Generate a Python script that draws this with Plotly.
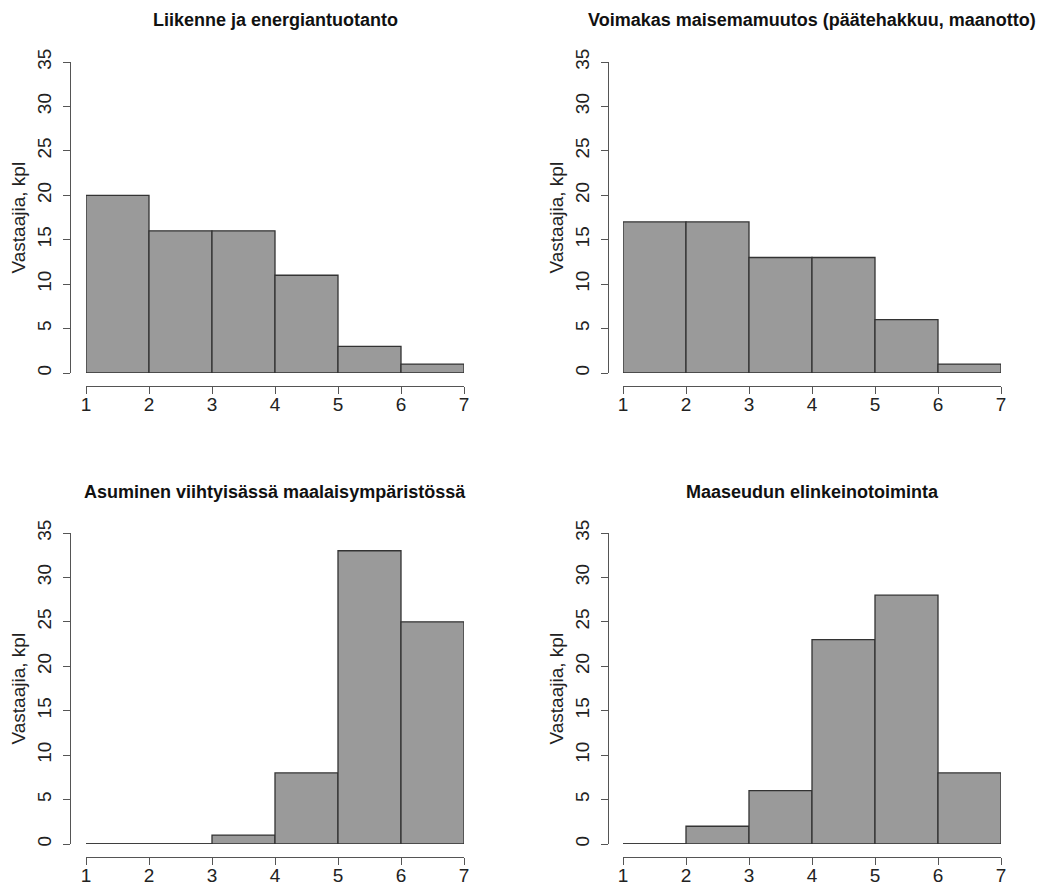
import plotly.graph_objects as go

# ---- data ----
titles = [
    "Liikenne ja energiantuotanto",
    "Voimakas maisemamuutos (päätehakkuu, maanotto)",
    "Asuminen viihtyisässä maalaisympäristössä",
    "Maaseudun elinkeinotoiminta",
]
bin_edges = [1, 2, 3, 4, 5, 6, 7]
counts_liikenne = [20, 16, 16, 11, 3, 1]
counts_maisema = [17, 17, 13, 13, 6, 1]
counts_asuminen = [0, 0, 1, 8, 33, 25]
counts_elinkeino = [0, 2, 6, 23, 28, 8]
x_ticks = [1, 2, 3, 4, 5, 6, 7]
y_ticks = [0, 5, 10, 15, 20, 25, 30, 35]
y_label = "Vastaajia, kpl"

all_counts = [counts_liikenne, counts_maisema, counts_asuminen, counts_elinkeino]

# ---- layout (page pixels) ----
W, H = 1037, 886
# (x_left, x_right, y_top, y_bottom, yaxis_x, xaxis_y, title_y)
panels = [
    (86, 464, 62, 373, 70, 386, 20),
    (623, 1001, 62, 373, 608, 386, 20),
    (86, 464, 533, 844, 70, 857, 492),
    (623, 1001, 533, 844, 608, 857, 492),
]

def px(x):
    return x / W

def py(y):
    return 1 - y / H

FONT = "Liberation Sans, Arial, sans-serif"
AXIS_COL = "#555555"
BAR_FILL = "#9a9a9a"
BAR_LINE = "#333333"
TICK_SIZE = 19

fig = go.Figure()
layout = dict(
    template="none",
    width=W, height=H, autosize=False,
    margin=dict(l=0, r=0, t=0, b=0, pad=0),
    paper_bgcolor="white", plot_bgcolor="white",
    showlegend=False,
    font=dict(family=FONT, size=18, color="#222222"),
    annotations=[],
)

centers = [(a + b) / 2 for a, b in zip(bin_edges[:-1], bin_edges[1:])]
widths = [b - a for a, b in zip(bin_edges[:-1], bin_edges[1:])]

for i, (counts, title, p) in enumerate(zip(all_counts, titles, panels)):
    xl, xr, yt, yb, yax_x, xax_y, ty = p
    n = "" if i == 0 else str(i + 1)
    xa, ya = "x" + n, "y" + n

    fig.add_trace(go.Bar(
        x=centers, y=counts, width=widths,
        marker=dict(color=BAR_FILL, line=dict(color=BAR_LINE, width=1.3)),
        xaxis=xa, yaxis=ya, cliponaxis=False, hoverinfo="x+y",
    ))
    # zero-count bins drawn as flat lines at y=0 (like R's hist)
    zx, zy = [], []
    for c, a, b in zip(counts, bin_edges[:-1], bin_edges[1:]):
        if c == 0:
            zx += [a, b, None]
            zy += [0, 0, None]
    if zx:
        fig.add_trace(go.Scatter(
            x=zx, y=zy, mode="lines", line=dict(color=BAR_LINE, width=1.3),
            xaxis=xa, yaxis=ya, cliponaxis=False, hoverinfo="skip",
        ))

    layout["xaxis" + n] = dict(
        domain=[px(xl), px(xr)], range=[bin_edges[0], bin_edges[-1]],
        anchor="free", position=py(xax_y), automargin=False,
        tickmode="array", tickvals=x_ticks, ticktext=[str(t) for t in x_ticks],
        ticks="outside", ticklen=7, tickwidth=1.2, tickcolor=AXIS_COL,
        showline=True, linecolor=AXIS_COL, linewidth=1.2,
        showgrid=False, zeroline=False,
        tickfont=dict(family=FONT, size=TICK_SIZE, color="#222222"),
        ticklabelstandoff=-6,
        fixedrange=True,
    )
    layout["yaxis" + n] = dict(
        domain=[py(yb), py(yt)], range=[y_ticks[0], y_ticks[-1]],
        anchor="free", position=px(yax_x), automargin=False,
        tickmode="array", tickvals=y_ticks, ticktext=[str(t) for t in y_ticks],
        tickangle=-90,
        ticks="outside", ticklen=7, tickwidth=1.2, tickcolor=AXIS_COL,
        showline=True, linecolor=AXIS_COL, linewidth=1.2,
        showgrid=False, zeroline=False,
        tickfont=dict(family=FONT, size=TICK_SIZE, color="#222222"),
        ticklabelstandoff=4,
        fixedrange=True,
    )
    layout["annotations"].append(dict(
        text="<b>" + title + "</b>", x=px((xl + xr) / 2), y=py(ty),
        xref="paper", yref="paper", xanchor="center", yanchor="middle",
        showarrow=False, font=dict(family=FONT, size=18, color="#111111"),
    ))
    layout["annotations"].append(dict(
        text=y_label, x=px(yax_x - 52), y=py((yt + yb) / 2),
        xref="paper", yref="paper", xanchor="center", yanchor="middle",
        textangle=-90, showarrow=False,
        font=dict(family=FONT, size=19, color="#222222"),
    ))

fig.update_layout(**layout)
fig.write_html(
    "out.html",
    config={"displayModeBar": False},
    post_script="document.body.style.margin='0px';document.body.style.overflow='hidden';",
)
